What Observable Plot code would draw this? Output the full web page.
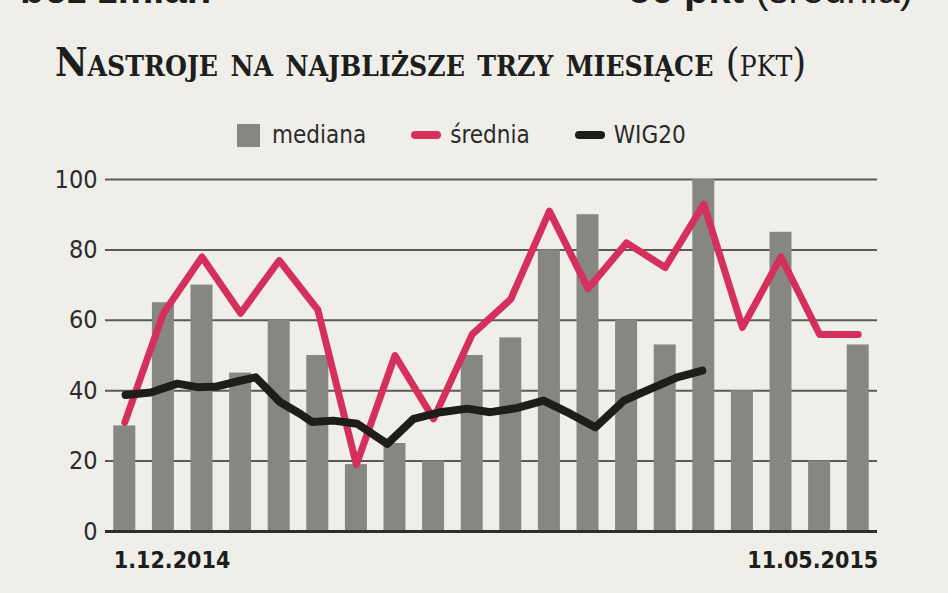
<!DOCTYPE html>
<html><head><meta charset="utf-8">
<script src="https://cdn.jsdelivr.net/npm/d3@7"></script>
<script src="https://cdn.jsdelivr.net/npm/@observablehq/plot@0.6"></script>
<style>
html,body{margin:0;padding:0;}
body{background:#efeee9;width:948px;height:593px;overflow:hidden;position:relative;
  font-family:"DejaVu Sans Condensed","Liberation Sans Narrow","DejaVu Sans",sans-serif;color:#2b2b29;}
#top{position:absolute;left:0;top:-31px;width:948px;height:40px;font-family:"Liberation Sans",Arial,sans-serif;font-size:40px;line-height:40px;color:#1e1e1c;}
#top .l{position:absolute;left:20px;font-weight:bold;}
#top .r{position:absolute;right:35px;white-space:nowrap;}
#top .r b{font-weight:bold;}
#title{position:absolute;left:55px;top:47px;font-family:"DejaVu Serif Condensed","DejaVu Serif",serif;font-weight:bold;font-size:30px;line-height:30px;font-variant:small-caps;white-space:nowrap;color:#1e1e1c;}
#title .u{font-weight:normal;}
#legend{position:absolute;left:237px;top:121px;height:28px;display:flex;align-items:center;font-size:24px;color:#2b2b29;white-space:nowrap;}
#legend .sq{width:23px;height:23px;background:#878782;margin-right:12px;}
#legend .dash{width:30px;height:8px;border-radius:4px;margin-right:9px;}
#legend .gap{width:45px;}
#chart{position:absolute;left:0;top:160px;}
</style></head><body>
<div id="top"><span class="l">bez zmian</span><span class="r"><b>56 pkt</b> (średnia)</span></div>
<div id="title">Nastroje na najbliższe trzy miesiące <span class="u">(pkt)</span></div>
<div id="legend">
  <div class="sq"></div><span>mediana</span><div class="gap"></div>
  <div class="dash" style="background:#d4305b"></div><span>średnia</span><div class="gap"></div>
  <div class="dash" style="background:#1d1d1b"></div><span>WIG20</span>
</div>
<div id="chart"></div>
<script>
// survey index (weekly surveys, 1.12.2014 … 11.05.2015)
const categories = [1,2,3,4,5,6,7,8,9,10,11,12,13,14,15,16,17,18,19,20];
const mediana = [30,65,70,45,60,50,19,25,20,50,55,80,90,60,53,100,40,85,20,53];
const srednia = [31,62,78,62,77,63,19,50,32,56,66,91,69,82,75,93,58,78,56,56];
// WIG20 (rescaled), read at finer positions along the survey axis
const wigPos = [1.02,1.67,2.36,2.88,3.39,3.82,4.39,5.03,5.55,5.85,6.40,7.02,7.80,8.48,9.18,9.87,10.47,11.17,11.85,12.55,13.19,13.93,14.62,15.31,15.96];
const wigVal = [38.8,39.5,42.0,41.0,41.2,42.4,43.8,36.7,33.4,31.1,31.5,30.6,24.9,32.0,33.9,34.9,33.9,35.1,37.2,33.4,29.6,37.2,40.5,43.8,45.7];
const yTicks = [0,20,40,60,80,100];
const gridTicks = [20,40,60,80,100];
const dateLabels = ["1.12.2014","11.05.2015"];

const bars = categories.map((c,i)=>({c, v: mediana[i]}));
const avg = categories.map((c,i)=>({c, v: srednia[i]}));
const wig = wigPos.map((p,i)=>({c: p, v: wigVal[i]}));
const dates = [
  {c: categories[0], label: dateLabels[0]},
  {c: categories[categories.length-1], label: dateLabels[1]}
];

const plot = Plot.plot({
  width: 948, height: 433,
  marginLeft: 105, marginRight: 71, marginTop: 19, marginBottom: 62,
  style: {background: "transparent", fontFamily: '"DejaVu Sans Condensed","Liberation Sans Narrow","DejaVu Sans",sans-serif', color: "#2b2b29"},
  x: {type: "linear", domain: [categories[0]-0.5, categories[categories.length-1]+0.5], axis: null},
  y: {domain: [0, 100], axis: null},
  marks: [
    Plot.ruleY(gridTicks, {stroke: "#5a5a58", strokeWidth: 2}),
    Plot.rectY(bars, {x1: d => d.c - 0.5, x2: d => d.c + 0.5, y: "v", fill: "#878782", insetLeft: 8.3, insetRight: 8.3}),
    Plot.ruleY([0], {stroke: "#2e2e2c", strokeWidth: 3}),
    Plot.line(avg, {x: "c", y: "v", stroke: "#d4305b", strokeWidth: 7, strokeLinejoin: "round", strokeLinecap: "round"}),
    Plot.line(wig, {x: "c", y: "v", stroke: "#1d1d1b", strokeWidth: 8, strokeLinejoin: "round", strokeLinecap: "round"}),
    Plot.axisY(yTicks, {tickSize: 0, tickPadding: 8, fontSize: 25, label: null, fill: "#2b2b29"}),
    Plot.text(dates.slice(0,1), {x: "c", y: 0, text: "label", textAnchor: "start", dx: -11, dy: 29, fontSize: 23, fontWeight: "bold", fill: "#1e1e1c"}),
    Plot.text(dates.slice(1), {x: "c", y: 0, text: "label", textAnchor: "end", dx: 20, dy: 29, fontSize: 23, fontWeight: "bold", fill: "#1e1e1c"})
  ]
});
document.getElementById("chart").appendChild(plot);

// fit the title to its width in the original
const t = document.getElementById("title");
const w = t.getBoundingClientRect().width;
if (w > 0) t.style.fontSize = (30 * 745 / w).toFixed(2) + "px";
</script>
</body></html>
